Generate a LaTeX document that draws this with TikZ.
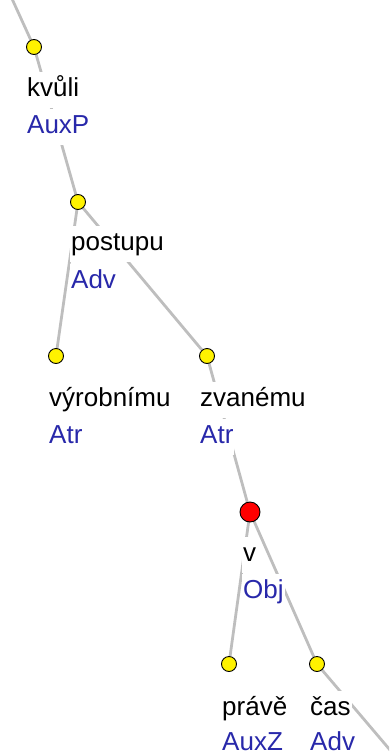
\documentclass[tikz,border=0pt]{standalone}
\usepackage{fontspec}
\setmainfont{Liberation Sans}
\definecolor{fnblue}{RGB}{40,40,170}
\definecolor{edgegray}{RGB}{190,190,190}
\begin{document}
\begin{tikzpicture}[x=1pt,y=-1pt,
  edge/.style={draw=edgegray,line width=2.8pt},
  word/.style={anchor=base west,fill=white,inner xsep=1pt,inner ysep=0pt,text height=24pt,text depth=12pt,font=\fontsize{26}{30}\selectfont,text=black},
  func/.style={word,text=fnblue},
  lastrow/.style={text depth=0pt},
  tnode/.style={circle,draw=black,line width=0.9pt,fill=yellow,minimum size=15pt,inner sep=0pt},
  rnode/.style={tnode,fill=red,minimum size=20pt}]
\useasboundingbox (0,0) rectangle (389,755);
\clip (0,0) rectangle (389,755);
% positions
\coordinate (top) at (8,-10);
\coordinate (kvuli) at (34,47);
\coordinate (postupu) at (78,202);
\coordinate (vyrob) at (56,356);
\coordinate (zvan) at (207,356);
\coordinate (v) at (250,512);
\coordinate (prave) at (229,664);
\coordinate (cas) at (317,664);
\coordinate (bot) at (424,790);
% edges
\draw[edge] (top) -- (kvuli);
\draw[edge] (kvuli) -- (postupu);
\draw[edge] (postupu) -- (vyrob);
\draw[edge] (postupu) -- (zvan);
\draw[edge] (zvan) -- (v);
\draw[edge] (v) -- (prave);
\draw[edge] (v) -- (cas);
\draw[edge] (cas) -- (bot);
% labels
\node[word] (kvuliw) at (26,96) {kvůli};
\node[func] (kvulif) at (26,133) {AuxP};
\node[word] (postupuw) at (70,250) {postupu};
\node[func] (postupuf) at (70,288) {Adv};
\node[word] (vyrobw) at (48,406) {výrobnímu};
\node[func] (vyrobf) at (48,443) {Atr};
\node[word] (zvanw) at (199,406) {zvanému};
\node[func] (zvanf) at (199,443) {Atr};
\node[word] (vw) at (242,561) {v};
\node[func] (vf) at (242,598) {Obj};
\node[word] (pravew) at (221,715) {právě};
\node[func,lastrow] (pravef) at (221,750) {AuxZ};
\node[word] (casw) at (309,715) {čas};
\node[func,lastrow] (casf) at (309,750) {Adv};
% node circles
\node[tnode] (kvulic) at (kvuli) {};
\node[tnode] (postupuc) at (postupu) {};
\node[tnode] (vyrobc) at (vyrob) {};
\node[tnode] (zvanc) at (zvan) {};
\node[rnode] (vc) at (v) {};
\node[tnode] (pravec) at (prave) {};
\node[tnode] (casc) at (cas) {};
\end{tikzpicture}
\end{document}
